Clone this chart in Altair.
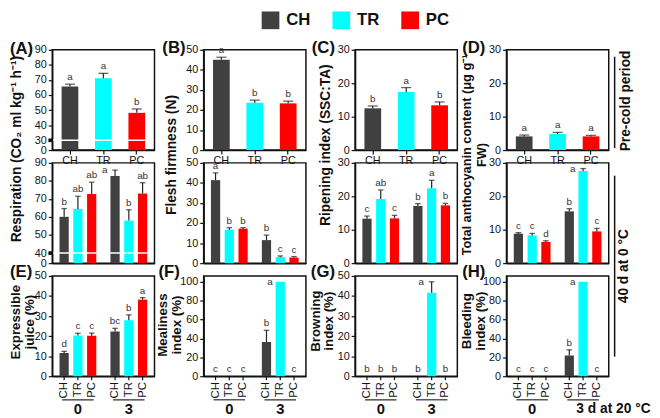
import altair as alt
import pandas as pd

FONT = "Liberation Sans"
TREATS = ["CH", "TR", "PC"]
COLORS = ["#404040", "#00FFFF", "#FF0000"]
DAYS = ["0", "3"]

# ---------- Pre-cold period (row 1): CH, TR, PC ----------
resp_pre = [65.7, 71.1, 48.2]
resp_pre_err = [1.5, 3.3, 2.6]
resp_pre_let = ["a", "a", "b"]

firm_pre = [45.0, 23.6, 23.3]
firm_pre_err = [1.3, 1.3, 1.1]
firm_pre_let = ["a", "b", "b"]

ripe_pre = [12.5, 17.4, 13.4]
ripe_pre_err = [0.7, 1.3, 1.0]
ripe_pre_let = ["b", "a", "b"]

anth_pre = [4.1, 4.8, 4.1]
anth_pre_err = [0.4, 0.5, 0.3]
anth_pre_let = ["a", "a", "a"]

# ---------- 40 d at 0 °C + 0 / 3 d at 20 °C: CH0, TR0, PC0, CH3, TR3, PC3 ----------
resp_post = [60.1, 64.5, 72.8, 82.7, 58.0, 73.0]
resp_post_err = [4.6, 7.0, 6.5, 3.3, 6.0, 6.0]
resp_post_let = ["b", "ab", "ab", "a", "b", "ab"]

firm_post = [41.4, 16.7, 17.2, 11.5, 3.0, 2.8]
firm_post_err = [3.6, 1.0, 0.5, 2.5, 0.6, 0.5]
firm_post_let = ["a", "b", "b", "b", "c", "c"]

ripe_post = [13.3, 19.2, 13.4, 17.1, 22.4, 17.3]
ripe_post_err = [0.8, 2.7, 0.9, 0.7, 2.4, 0.6]
ripe_post_let = ["c", "ab", "c", "b", "a", "b"]

anth_post = [8.8, 8.3, 6.3, 15.5, 27.6, 9.5]
anth_post_err = [0.3, 0.6, 0.4, 0.8, 0.7, 0.9]
anth_post_let = ["c", "c", "d", "b", "a", "c"]

juice = [11.6, 20.3, 20.2, 22.3, 27.9, 38.2]
juice_err = [0.8, 1.1, 1.3, 1.6, 2.7, 1.0]
juice_let = ["d", "c", "c", "bc", "b", "a"]

meal = [0, 0, 0, 36.2, 100, 0]
meal_err = [0, 0, 0, 12.3, 0, 0]
meal_let = ["c", "c", "c", "b", "a", "c"]

brown = [0, 0, 0, 0, 41.6, 0]
brown_err = [0, 0, 0, 0, 5.5, 0]
brown_let = ["b", "b", "b", "b", "a", "b"]

bleed = [0, 0, 0, 21.9, 100, 0]
bleed_err = [0, 0, 0, 6.0, 0, 0]
bleed_let = ["c", "c", "c", "b", "a", "c"]

W = 104
H = 102
EB = "#222222"
INK = "#111111"

color_scale = alt.Scale(domain=TREATS, range=COLORS)
legend = alt.Legend(title=None, orient="none", legendX=213, legendY=-39, direction="horizontal",
                    columns=3, symbolType="square", symbolSize=324, symbolStrokeWidth=0,
                    labelFont=FONT, labelFontSize=17, labelFontWeight="bold", labelColor=INK,
                    columnPadding=22, labelOffset=7)


def make_df(vals, errs, lets, grouped):
    if grouped:
        treat = TREATS * 2
        day = [d for d in DAYS for _ in TREATS]
    else:
        treat = list(TREATS)
        day = ["pre"] * 3
    df = pd.DataFrame({"treat": treat, "day": day, "value": vals, "err": errs, "letter": lets})
    df["upper"] = df["value"] + df["err"]
    return df


def note(text, x, y, size=14, angle=0, align="center", baseline="middle", bold=True, lh=None):
    return alt.Chart(pd.DataFrame({"k": [0]})).mark_text(
        text=text, angle=angle, align=align, baseline=baseline, font=FONT, fontSize=size,
        fontWeight="bold" if bold else "normal", color=INK, lineHeight=lh or size + 2,
    ).encode(x=alt.value(x), y=alt.value(y))


def vline(x, y1, y2):
    return alt.Chart(pd.DataFrame({"k": [0]})).mark_rule(color=INK, strokeWidth=1.5).encode(
        x=alt.value(x), y=alt.value(y1), y2=alt.value(y2))


def panel(df, ymax, ticks, grouped, base=0.0, brk=None, row3=False, notes=(), hide_day=None):
    h = H
    yscale = alt.Scale(domain=[base, ymax], nice=False, zero=False)
    lab = f"datum.value < {brk - 1} ? '0' : datum.label" if brk else "datum.label"
    yaxis = alt.Axis(values=ticks, title=None, grid=False, labelExpr=lab, labelOverlap=False,
                     labelFlush=False)

    def Y(field):
        return alt.Y(field, type="quantitative", scale=yscale, axis=yaxis)

    if grouped:
        if row3:
            dlab = f"datum.label == '{hide_day}' ? '' : datum.label" if hide_day else "datum.label"
            xaxis = alt.Axis(title=None, ticks=False, labelAngle=0, labelPadding=26, labelFontSize=15,
                             labelFontWeight="bold", labelBaseline="top", labelExpr=dlab)
        else:
            xaxis = alt.Axis(title=None, ticks=False, labels=False)
        enc = dict(
            x=alt.X("day:N", scale=alt.Scale(domain=DAYS, paddingInner=0.278, paddingOuter=0.143), axis=xaxis),
            xOffset=alt.XOffset("treat:N", scale=alt.Scale(domain=TREATS, paddingInner=0.33, paddingOuter=0)),
        )
        bw = 9.4
    else:
        xaxis = alt.Axis(title=None, labelAngle=0, labelFontSize=11, labelPadding=1)
        enc = dict(x=alt.X("treat:N", scale=alt.Scale(domain=TREATS, paddingInner=0.5, paddingOuter=0.28),
                           axis=xaxis))
        bw = 17

    layers = [
        alt.Chart(df).mark_bar().encode(
            **enc, y=Y("value"), y2=alt.datum(base),
            color=alt.Color("treat:N", scale=color_scale, legend=legend))
    ]
    de = df[df["err"] > 0]
    if len(de):
        layers.append(alt.Chart(de).mark_rule(color=EB, strokeWidth=1.2).encode(
            **enc, y=Y("value"), y2="upper:Q"))
        layers.append(alt.Chart(de).mark_tick(orient="horizontal", size=bw * 0.6, thickness=1.3,
                                              color=EB).encode(**enc, y=Y("upper")))
    side = df["upper"] > 0.935 * ymax
    top_df = df[~side]
    side_df = df[side]
    if len(top_df):
        layers.append(alt.Chart(top_df).mark_text(dy=-4, baseline="alphabetic", fontSize=10, font=FONT,
                                                  color="#333333").encode(**enc, y=Y("upper"), text="letter:N"))
    if len(side_df):
        layers.append(alt.Chart(side_df).mark_text(dx=-(bw / 2 + 3), align="right", baseline="middle",
                                                   fontSize=10, font=FONT, color="#333333").encode(
            **enc, y=Y("upper"), text="letter:N"))
    if brk:
        bd = pd.DataFrame({"b": [brk]})
        layers.append(alt.Chart(bd).mark_rule(color="white", strokeWidth=1.6).encode(
            y=Y("b"), x=alt.value(1), x2=alt.value(W - 1)))
        layers.append(alt.Chart(bd).mark_point(shape="square", filled=True, size=14, color=INK,
                                               opacity=1).encode(y=Y("b"), x=alt.value(-2)))
    if row3:
        layers.append(alt.Chart(df).mark_text(angle=270, align="right", baseline="middle", fontSize=11.5,
                                              font=FONT, color=INK).encode(
            **enc, y=alt.value(h + 6), text="treat:N"))
        layers.append(alt.Chart(df).mark_rule(color=INK, strokeWidth=1.2).encode(
            **enc, y=alt.value(h), y2=alt.value(h + 4)))
        layers.append(alt.Chart(pd.DataFrame({"day": DAYS})).mark_tick(
            orient="horizontal", size=32, thickness=1.6, color=INK).encode(
            x=enc["x"], y=alt.value(h + 24)))
    layers.extend(notes)
    return alt.layer(*layers).properties(width=W, height=h)


# ---------- row 1 ----------
A1 = panel(make_df(resp_pre, resp_pre_err, resp_pre_let, False), 90, [23.5, 30, 40, 50, 60, 70, 80, 90],
           False, base=23.5, brk=30, notes=[note("(A)", -43, -1, size=17, align="left")])
B1 = panel(make_df(firm_pre, firm_pre_err, firm_pre_let, False), 50, [0, 10, 20, 30, 40, 50],
           False, notes=[note("(B)", -42, -2, size=17, align="left")])
C1 = panel(make_df(ripe_pre, ripe_pre_err, ripe_pre_let, False), 30, [0, 10, 20, 30],
           False, notes=[note("(C)", -44, -2, size=17, align="left")])
D1 = panel(make_df(anth_pre, anth_pre_err, anth_pre_let, False), 30, [0, 10, 20, 30],
           False, notes=[note("(D)", -45, -2, size=17, align="left"),
                         vline(110, 7, 100),
                         note("Pre-cold period", 122, 52, angle=270)])

# ---------- row 2 ----------
A2 = panel(make_df(resp_post, resp_post_err, resp_post_let, True), 90, [34.4, 40, 50, 60, 70, 80, 90],
           True, base=34.4, brk=40,
           notes=[note("Respiration (CO\u2082 ml kg\u207b\u00b9 h\u207b\u00b9)", -36, -14, angle=270)])
B2 = panel(make_df(firm_post, firm_post_err, firm_post_let, True), 50, [0, 10, 20, 30, 40, 50],
           True, notes=[note("Flesh firmness (N)", -32, -8, angle=270)])
C2 = panel(make_df(ripe_post, ripe_post_err, ripe_post_let, True), 30, [0, 10, 20, 30],
           True, notes=[note("Ripening index (SSC:TA)", -30, -18, angle=270)])
D2 = panel(make_df(anth_post, anth_post_err, anth_post_let, True), 30, [0, 10, 20, 30],
           True, notes=[note(["Total anthocyanin content (\u03bcg g\u207b\u00b9", "FW)"], -40, -8,
                             size=13, angle=270, lh=15),
                        vline(110, 13, 197),
                        note("40 d at 0 \u00b0C", 120, 105, angle=270)])

# ---------- row 3 ----------
E3 = panel(make_df(juice, juice_err, juice_let, True), 50, [0, 10, 20, 30, 40, 50],
           True, row3=True, notes=[note("(E)", -43, -4, size=17, align="left"),
                                   note(["Expressible", "juice (%)"], -37, 47, size=13.5, angle=270, lh=14)])
F3 = panel(make_df(meal, meal_err, meal_let, True), 106, [0, 20, 40, 60, 80, 100],
           True, row3=True, notes=[note("(F)", -46, -4, size=17, align="left"),
                                   note(["Mealiness", "index (%)"], -41, 50, size=13.5, angle=270, lh=14)])
G3 = panel(make_df(brown, brown_err, brown_let, True), 50, [0, 10, 20, 30, 40, 50],
           True, row3=True, notes=[note("(G)", -45, -4, size=17, align="left"),
                                   note(["Browning", "index (%)"], -40, 46, size=13.5, angle=270, lh=14)])
H3p = panel(make_df(bleed, bleed_err, bleed_let, True), 106, [0, 20, 40, 60, 80, 100],
            True, row3=True, hide_day="3",
            notes=[note("(H)", -45, -4, size=17, align="left"),
                   note(["Bleeding", "index (%)"], -40, 46, size=13.5, angle=270, lh=14),
                   note("3 d at 20 \u00b0C", 71, H + 26, size=14, align="left", baseline="top")])

chart = alt.concat(
    A1, B1, C1, D1, A2, B2, C2, D2, E3, F3, G3, H3p,
    columns=4, spacing={"row": 13, "column": 50}, bounds="flush"
).properties(padding=0).configure_view(
    stroke=INK, strokeWidth=1.5
).configure_axis(
    domainColor=INK, domainWidth=1.5, tickColor=INK, tickWidth=1.2, tickSize=4,
    labelFont=FONT, labelFontSize=11, labelColor=INK
)

chart.save("out.html", embed_options={"renderer": "svg", "actions": False})
